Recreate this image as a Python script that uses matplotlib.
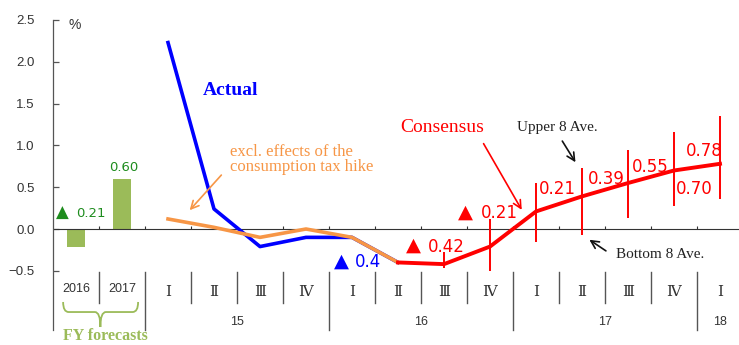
import matplotlib
matplotlib.use('Agg')
import matplotlib.pyplot as plt
from matplotlib.path import Path
from matplotlib.patches import PathPatch

# fiscal-year forecasts (bars)
fy_labels = ['2016', '2017']
fy_values = [-0.21, 0.60]

# quarterly axis, starts at 2015 Q1 (FY)
quarter_labels = ['Ⅰ', 'Ⅱ', 'Ⅲ', 'Ⅳ', 'Ⅰ', 'Ⅱ', 'Ⅲ', 'Ⅳ', 'Ⅰ', 'Ⅱ', 'Ⅲ', 'Ⅳ', 'Ⅰ']
year_labels = ['15', '16', '17', '18']
year_spans = [(0, 4), (4, 8), (8, 12), (12, 13)]

# actual (15 I .. 16 II)
actual = [2.23, 0.24, -0.21, -0.10, -0.10, -0.40]
excl_tax = [0.12, 0.02, -0.10, 0.00, -0.10, -0.40]

# consensus (16 II .. 18 I) and ranges (16 III .. 18 I)
consensus = [-0.40, -0.42, -0.21, 0.21, 0.39, 0.55, 0.70, 0.78]
upper8 = [-0.28, 0.12, 0.55, 0.73, 0.94, 1.16, 1.35]
bottom8 = [-0.47, -0.50, -0.15, -0.07, 0.13, 0.27, 0.36]

BLUE = '#0000FF'
RED = '#FF0000'
ORANGE = '#F79646'
BARG = '#9BBB59'
DKG = '#1E8C1E'
GRAY = '#555555'

fig = plt.figure(figsize=(7.39, 3.45), dpi=100, facecolor='white')
ax = fig.add_axes([53 / 739, 15 / 345, 690 / 739, 310 / 345])
ax.set_xlim(0, 15)
ax.set_ylim(-1.208, 2.5)
ax.patch.set_visible(False)
for s in ['top', 'right', 'bottom']:
    ax.spines[s].set_visible(False)
ax.spines['left'].set_color(GRAY)
ax.spines['left'].set_linewidth(0.9)

yt = [-0.5, 0.0, 0.5, 1.0, 1.5, 2.0, 2.5]
ax.set_yticks(yt)
ax.set_yticklabels([f'{v:.1f}'.replace('-', '\u2212') for v in yt],
                   fontfamily='Liberation Sans', fontsize=9.5, color='#333333')
ax.tick_params(axis='y', direction='in', length=4, width=0.9, color=GRAY, pad=13)
ax.set_xticks([])

# zero line + small ticks at slot borders
ax.axhline(0, color='#333333', lw=0.8, zorder=2)
ax.vlines(range(1, 15), 0, 0.04, color='#333333', lw=0.8, zorder=2)

# category table below
t_top, t_mid, t_bot = -0.514, -0.885, -1.208
long_sep = [2, 6, 10, 14]
for b in range(1, 15):
    ax.plot([b, b], [t_top, t_bot if b in long_sep else t_mid],
            color=GRAY, lw=1.0, clip_on=False)

for i, lab in enumerate(fy_labels):
    ax.text(i + 0.5, -0.72, lab, ha='center', va='center', fontsize=9,
            fontfamily='Liberation Sans', color='#333333')
for i, lab in enumerate(quarter_labels):
    ax.text(i + 2.5, -0.75, lab, ha='center', va='center', fontsize=11,
            family=['DejaVu Serif', 'DejaVu Sans', 'Noto Sans CJK JP'], color='#333333')
for lab, (a, b) in zip(year_labels, year_spans):
    ax.text(2 + (a + b) / 2, -1.11, lab, ha='center', va='center', fontsize=9,
            fontfamily='Liberation Sans', color='#333333')

# FY bars
ax.bar([0.5, 1.5], fy_values, width=0.39, color=BARG, zorder=1)

# brace under FY
x0, xm, x1 = 0.22, 1.03, 1.85
ytop, ymid, ytip = -0.873, -0.993, -1.172
verts = [(x0, ytop), (x0, ymid), (x0 + 0.12, ymid), (xm - 0.12, ymid),
         (xm, ymid), (xm, ytip), (xm, ymid), (xm + 0.12, ymid),
         (x1 - 0.12, ymid), (x1, ymid), (x1, ytop)]
codes = [Path.MOVETO, Path.CURVE3, Path.CURVE3, Path.LINETO,
         Path.CURVE3, Path.CURVE3, Path.CURVE3, Path.CURVE3,
         Path.LINETO, Path.CURVE3, Path.CURVE3]
ax.add_patch(PathPatch(Path(verts, codes), fc='none', ec=BARG, lw=1.3, clip_on=False))
ax.text(1.13, -1.33, 'FY forecasts', ha='center', va='baseline', fontsize=11.5,
        fontfamily='Liberation Serif', fontweight='bold', color=BARG, clip_on=False)

# lines
qx_act = [2.5 + i for i in range(len(actual))]
qx_con = [7.5 + i for i in range(len(consensus))]
qx_rng = [8.5 + i for i in range(len(upper8))]
ax.plot(qx_act, actual, color=BLUE, lw=2.6, zorder=3, solid_joinstyle='round')
ax.plot(qx_act, excl_tax, color=ORANGE, lw=2.6, zorder=4, solid_joinstyle='round')
ax.plot(qx_con, consensus, color=RED, lw=2.8, zorder=5, solid_joinstyle='round')
ax.vlines(qx_rng, bottom8, upper8, color=RED, lw=1.4, zorder=5)

# labels
ax.text(0.48, 2.44, '%', ha='center', va='center', fontsize=10,
        fontfamily='Liberation Sans', color='#333333')
ax.text(0.21, 0.19, '▲', ha='center', va='center', fontsize=12, color=DKG)
ax.text(0.50, 0.19, '0.21', ha='left', va='center', fontsize=9.5, color=DKG)
ax.text(1.53, 0.73, '0.60', ha='center', va='center', fontsize=9.5, color=DKG)

ax.text(3.26, 1.66, 'Actual', ha='left', va='center', fontsize=14,
        fontfamily='Liberation Serif', fontweight='bold', color=BLUE)
ax.text(3.85, 0.83, 'excl. effects of the\nconsumption tax hike', ha='left',
        va='center', fontsize=12, fontfamily='Liberation Serif', color=ORANGE,
        linespacing=0.95)
ax.annotate('', xy=(2.93, 0.20), xytext=(3.70, 0.67),
            arrowprops=dict(arrowstyle='->', color=ORANGE, lw=1.2, mutation_scale=14))

ax.text(7.54, 1.22, 'Consensus', ha='left', va='center', fontsize=14,
        fontfamily='Liberation Serif', color=RED)
ax.annotate('', xy=(10.22, 0.20), xytext=(9.33, 1.05),
            arrowprops=dict(arrowstyle='->', color=RED, lw=1.2, mutation_scale=14))

ax.text(10.09, 1.22, 'Upper 8 Ave.', ha='left', va='center', fontsize=11,
        fontfamily='Liberation Serif', color='#222222')
ax.annotate('', xy=(11.39, 0.77), xytext=(11.04, 1.08),
            arrowprops=dict(arrowstyle='->', color='#111111', lw=1.2, mutation_scale=14))
ax.text(12.24, -0.31, 'Bottom 8 Ave.', ha='left', va='center', fontsize=11,
        fontfamily='Liberation Serif', color='#222222')
ax.annotate('', xy=(11.61, -0.11), xytext=(12.07, -0.28),
            arrowprops=dict(arrowstyle='->', color='#111111', lw=1.2, mutation_scale=14))

ax.text(6.26, -0.38, '▲', ha='center', va='center', fontsize=14, color=BLUE)
ax.text(6.57, -0.39, '0.4', ha='left', va='center', fontsize=12, color=BLUE)
ax.text(7.84, -0.19, '▲', ha='center', va='center', fontsize=14, color=RED)
ax.text(8.15, -0.22, '0.42', ha='left', va='center', fontsize=12, color=RED)
ax.text(8.97, 0.20, '▲', ha='center', va='center', fontsize=14, color=RED)
ax.text(9.30, 0.19, '0.21', ha='left', va='center', fontsize=12, color=RED)
ax.text(10.57, 0.48, '0.21', ha='left', va='center', fontsize=12, color=RED)
ax.text(11.63, 0.60, '0.39', ha='left', va='center', fontsize=12, color=RED)
ax.text(12.59, 0.74, '0.55', ha='left', va='center', fontsize=12, color=RED)
ax.text(13.54, 0.48, '0.70', ha='left', va='center', fontsize=12, color=RED)
ax.text(13.76, 0.93, '0.78', ha='left', va='center', fontsize=12, color=RED)

fig.savefig('out.png', dpi=100, facecolor='white')
